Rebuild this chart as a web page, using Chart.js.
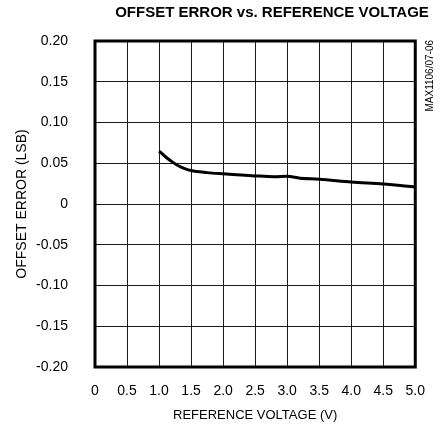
<!DOCTYPE html>
<html>
<head>
<meta charset="utf-8">
<script src="https://cdn.jsdelivr.net/npm/chart.js@4.4.0/dist/chart.umd.min.js"></script>
<style>
  html, body { margin: 0; padding: 0; background: #fff; }
  #wrap { width: 441px; height: 428px; }
</style>
</head>
<body>
<div id="wrap"><canvas id="chart" width="441" height="428"></canvas></div>
<script>
// reference voltage (V) and offset error (LSB)
const refVoltage = [1.0, 1.1, 1.2, 1.3, 1.4, 1.5, 1.75, 2.0, 2.5, 2.8, 3.0, 3.2, 3.5, 4.0, 4.5, 5.0];
const offsetError = [0.065, 0.058, 0.052, 0.047, 0.0435, 0.041, 0.0385, 0.037, 0.0345, 0.0335, 0.034, 0.0316, 0.0305, 0.027, 0.0245, 0.021];

const xTicks = [0, 0.5, 1.0, 1.5, 2.0, 2.5, 3.0, 3.5, 4.0, 4.5, 5.0];
const yTicks = [-0.20, -0.15, -0.10, -0.05, 0, 0.05, 0.10, 0.15, 0.20];

const chartTitle = 'OFFSET ERROR vs. REFERENCE VOLTAGE';
const partCode = 'MAX1106/07-06';

const FONT = "'Liberation Sans', Arial, sans-serif";

// title on top, part code rotated on the right edge, thick frame
const decorations = {
    id: 'decorations',
    afterDraw(chart) {
        const ctx = chart.ctx;
        const area = chart.chartArea;
        ctx.save();
        ctx.fillStyle = '#000';
        ctx.font = 'bold 15px ' + FONT;
        ctx.textAlign = 'center';
        ctx.textBaseline = 'middle';
        ctx.fillText(chartTitle, 272, 13);

        ctx.translate(430, 40);
        ctx.rotate(-Math.PI / 2);
        ctx.font = '10px ' + FONT;
        ctx.textAlign = 'right';
        ctx.fillText(partCode, 0, 0);
        ctx.restore();

        ctx.save();
        ctx.strokeStyle = '#000';
        ctx.lineWidth = 3;
        ctx.strokeRect(area.left, area.top, area.right - area.left, area.bottom - area.top);
        ctx.restore();
    }
};

new Chart(document.getElementById('chart'), {
    type: 'scatter',
    data: {
        datasets: [{
            data: refVoltage.map((v, i) => ({ x: v, y: offsetError[i] })),
            showLine: true,
            borderColor: '#000',
            borderWidth: 3,
            pointRadius: 0,
            tension: 0.4,
            cubicInterpolationMode: 'monotone'
        }]
    },
    options: {
        responsive: false,
        animation: false,
        layout: { padding: { left: 0, right: 22, top: 41, bottom: 0 } },
        plugins: { legend: { display: false }, tooltip: { enabled: false } },
        scales: {
            x: {
                type: 'linear',
                min: 0,
                max: 5,
                afterFit: s => { s.height = 61; },
                afterBuildTicks: s => { s.ticks = xTicks.map(v => ({ value: v })); },
                grid: { color: '#1a1a1a', lineWidth: 1, drawTicks: false },
                border: { display: false },
                ticks: {
                    padding: 16,
                    color: '#000',
                    font: { family: FONT, size: 14 },
                    callback: v => v === 0 ? '0' : v.toFixed(1)
                },
                title: {
                    display: true,
                    text: 'REFERENCE VOLTAGE (V)',
                    color: '#000',
                    font: { family: FONT, size: 13 },
                    padding: { top: 0, bottom: 5 }
                }
            },
            y: {
                type: 'linear',
                min: -0.2,
                max: 0.2,
                afterFit: s => { s.width = 95; },
                afterBuildTicks: s => { s.ticks = yTicks.map(v => ({ value: v })); },
                grid: { color: '#1a1a1a', lineWidth: 1, drawTicks: false },
                border: { display: false },
                ticks: {
                    padding: 27,
                    color: '#000',
                    font: { family: FONT, size: 14 },
                    callback: v => Math.abs(v) < 1e-9 ? '0' : v.toFixed(2)
                },
                title: {
                    display: true,
                    text: 'OFFSET ERROR (LSB)',
                    color: '#000',
                    font: { family: FONT, size: 14 },
                    padding: { top: 14, bottom: 0 }
                }
            }
        }
    },
    plugins: [decorations]
});
</script>
</body>
</html>
